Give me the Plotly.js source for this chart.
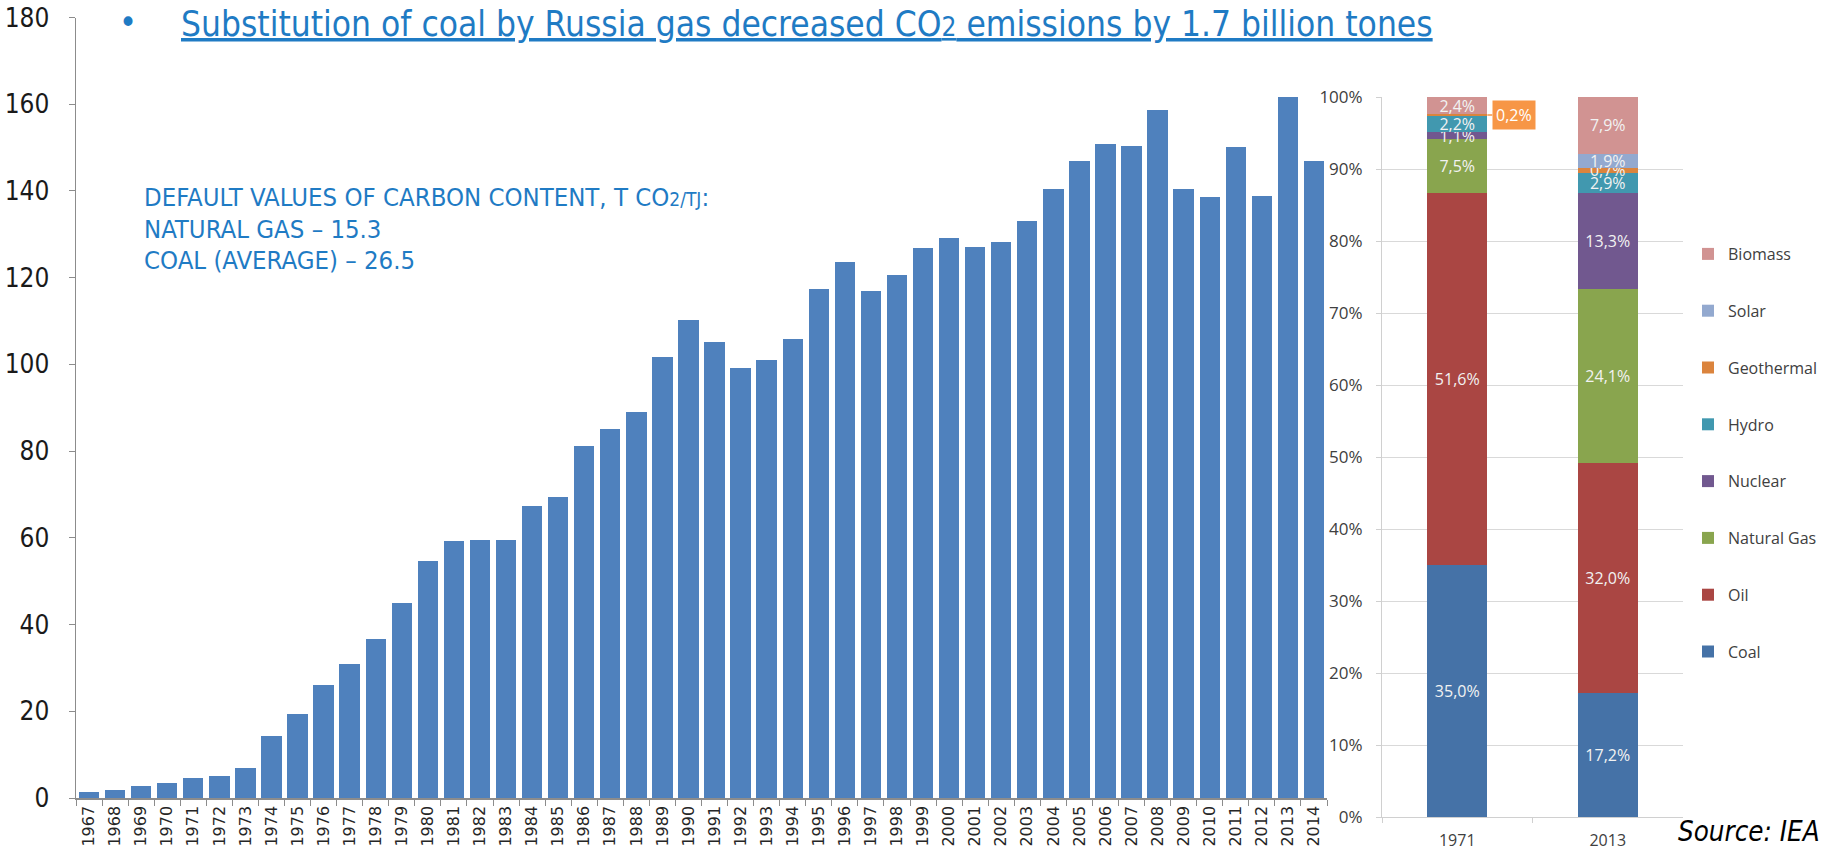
<!DOCTYPE html>
<html>
<head>
<meta charset="utf-8">
<script src="https://cdn.plot.ly/plotly-3.0.1.min.js"></script>
<style>html,body{margin:0;padding:0;background:#fff;}#chart{width:1825px;height:850px;}</style>
</head>
<body>
<div id="chart"></div>
<script>
// ---- data ----
const years = ['1967','1968','1969','1970','1971','1972','1973','1974','1975','1976','1977','1978','1979','1980','1981','1982','1983','1984','1985','1986','1987','1988','1989','1990','1991','1992','1993','1994','1995','1996','1997','1998','1999','2000','2001','2002','2003','2004','2005','2006','2007','2008','2009','2010','2011','2012','2013','2014'];
const exports = [1.3,1.9,2.7,3.5,4.6,5.1,7.0,14.2,19.3,26.0,30.8,36.7,45.0,54.7,59.2,59.5,59.5,67.3,69.4,81.2,85.2,89.0,101.6,110.2,105.1,99.2,101.1,105.9,117.4,123.6,116.9,120.6,126.8,129.2,127.1,128.2,133.0,140.5,146.9,150.9,150.4,158.7,140.5,138.6,150.1,138.9,161.7,146.9];
const leftTicks = [0,20,40,60,80,100,120,140,160,180];

const mixYears = ['1971','2013'];
const sources = ['Coal','Oil','Natural Gas','Nuclear','Hydro','Geothermal','Solar','Biomass'];
const share1971 = [35.0,51.6,7.5,1.1,2.2,0.2,0.0,2.4];
const share2013 = [17.2,32.0,24.1,13.3,2.9,0.7,1.9,7.9];
const sourceColors = ['#4572A7','#AA4643','#89A54E','#71588F','#4198AF','#DB843D','#93A9CF','#D19392'];
const pctTicks = [0,10,20,30,40,50,60,70,80,90,100];

const titleText = 'Substitution of coal by Russia gas decreased CO<span style="font-size:26px">2</span> emissions by 1.7 billion tones';
const noteLines = ['DEFAULT VALUES OF CARBON CONTENT, T CO<span style="font-size:19px">2/TJ</span>:', 'NATURAL GAS – 15.3', 'COAL (AVERAGE) – 26.5'];
const sourceText = 'Source: IEA';

// ---- helpers ----
const fmt = v => v.toFixed(1).replace('.', ',') + '%';
const NARROW = '"Liberation Sans Narrow", "DejaVu Sans Condensed", "Arial Narrow", sans-serif';
const CAL = '"Open Sans", "Noto Sans", sans-serif';
const BLUE = '#1F7BC4';

const traces = [];
traces.push({
  type: 'bar', x: years, y: exports, xaxis: 'x', yaxis: 'y',
  marker: {color: '#4F81BD'}, width: 0.78, showlegend: false, hoverinfo: 'x+y'
});

sources.forEach((s, i) => {
  const vals = [share1971[i], share2013[i]];
  const txt = vals.map((v, j) => (v === 0 || (j === 0 && s === 'Geothermal')) ? '' : fmt(v));
  traces.push({
    type: 'bar', name: s, x: mixYears, y: vals, xaxis: 'x2', yaxis: 'y2',
    width: 0.4, marker: {color: sourceColors[i]},
    text: txt, textposition: 'inside', insidetextanchor: 'middle', textangle: 0,
    textfont: {family: CAL, size: 16, color: '#F2F2F2'},
    legendgroup: s, legendrank: sources.length - i, hoverinfo: 'name+y'
  });
});

const geoIdx = sources.indexOf('Geothermal');
const geoMid = share1971.slice(0, geoIdx).reduce((a, b) => a + b, 0) + share1971[geoIdx] / 2;

const annotations = [
  {xref: 'paper', yref: 'paper', x: 128/1825, y: 1 - 22/850, xanchor: 'center', yanchor: 'middle',
   text: '•', showarrow: false, font: {family: NARROW, size: 34, color: BLUE}},
  {xref: 'paper', yref: 'paper', x: 179/1825, y: 1 - 24/850, xanchor: 'left', yanchor: 'middle',
   text: '<u>' + titleText + '</u>', showarrow: false, font: {family: NARROW, size: 35, color: BLUE}},
  {xref: 'paper', yref: 'paper', x: 1822/1825, y: 1/850, xanchor: 'right', yanchor: 'bottom',
   text: '<i>' + sourceText + '</i>', showarrow: false, font: {family: NARROW, size: 27.5, color: '#000'}},
  {xref: 'x2', yref: 'y2', x: 0.233, y: geoMid, xanchor: 'left', yanchor: 'middle',
   text: fmt(share1971[geoIdx]), showarrow: false, bgcolor: '#F79646', borderpad: 3,
   font: {family: CAL, size: 16, color: '#FFFFFF'}}
];
const noteCenters = [197, 229, 260];
noteLines.forEach((t, i) => annotations.push({
  xref: 'paper', yref: 'paper', x: 142/1825, y: 1 - noteCenters[i]/850, xanchor: 'left', yanchor: 'middle',
  text: t, showarrow: false, font: {family: NARROW, size: 25.5, color: BLUE}
}));

const layout = {
  width: 1825, height: 850,
  margin: {l: 0, r: 0, t: 0, b: 0},
  paper_bgcolor: '#fff', plot_bgcolor: 'rgba(0,0,0,0)',
  barmode: 'stack',
  showlegend: true,
  uniformtext: {mode: 'show', minsize: 16},
  xaxis: {
    domain: [76/1825, 1327/1825], anchor: 'y', type: 'category',
    tickangle: -90, tickfont: {family: '"DejaVu Sans", Verdana, sans-serif', size: 16, color: '#262626'},
    showline: true, linecolor: '#8C8C8C', linewidth: 1.5, ticks: 'outside', tickson: 'boundaries',
    ticklen: 6, tickcolor: '#8C8C8C', showgrid: false, fixedrange: true
  },
  yaxis: {
    domain: [52/850, 832.5/850], anchor: 'x', range: [0, 180],
    tickvals: leftTicks, ticktext: leftTicks.map(String),
    tickfont: {family: NARROW, size: 26, color: '#1A1A1A'},
    showline: true, linecolor: '#8C8C8C', linewidth: 1.5, ticks: 'outside', ticklen: 6, tickcolor: '#8C8C8C',
    ticklabelstandoff: 14, showgrid: false, zeroline: false, fixedrange: true
  },
  xaxis2: {
    domain: [1382/1825, 1683/1825], anchor: 'y2', type: 'category',
    tickfont: {family: CAL, size: 16, color: '#404040'},
    showline: true, linecolor: '#D0D0D0', linewidth: 1, ticks: 'outside', tickson: 'boundaries',
    ticklen: 5, tickcolor: '#D0D0D0', showgrid: false, ticklabelstandoff: 9, fixedrange: true
  },
  yaxis2: {
    domain: [33/850, 753/850], anchor: 'x2', range: [0, 100],
    tickvals: pctTicks, ticktext: pctTicks.map(v => v + '%'),
    tickfont: {family: CAL, size: 17, color: '#404040'},
    showline: true, linecolor: '#D0D0D0', linewidth: 1, ticks: 'outside', ticklen: 5, tickcolor: '#D0D0D0',
    ticklabelstandoff: 10,
    showgrid: true, gridcolor: '#D9D9D9', gridwidth: 1, zeroline: false, fixedrange: true
  },
  legend: {
    x: 1688/1825, y: 1 - 237/850, xanchor: 'left', yanchor: 'top',
    traceorder: 'grouped', tracegroupgap: 33,
    font: {family: CAL, size: 16, color: '#404040'}, bgcolor: 'rgba(0,0,0,0)', itemclick: false
  },
  shapes: [
    {type: 'line', xref: 'x2', yref: 'y2', x0: 0.2, x1: 0.233, y0: geoMid, y1: geoMid,
     line: {color: '#F79646', width: 1.5}}
  ],
  annotations: annotations
};

Plotly.newPlot('chart', traces, layout, {displayModeBar: false, staticPlot: true});
</script>
</body>
</html>
